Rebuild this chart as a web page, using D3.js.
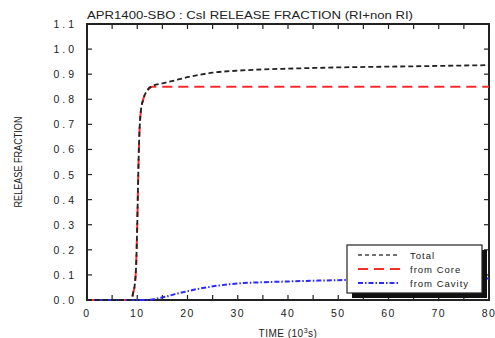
<!DOCTYPE html>
<html>
<head>
<meta charset="utf-8">
<script src="https://cdn.jsdelivr.net/npm/d3@7"></script>
<style>
  body { margin: 0; background: #fff; }
  text { font-family: "Liberation Sans", Arial, sans-serif; fill: #222; }
</style>
</head>
<body>
<div id="chart"></div>
<script>
// time in 10^3 s, release fraction
var totalT = [0, 8.8, 9.2, 9.5, 9.8, 10.0, 10.2, 10.4, 10.7, 11.2, 12, 13, 15, 18, 20, 22.5, 25, 30, 35, 40, 50, 60, 70, 80];
var totalV = [0, 0, 0.03, 0.06, 0.15, 0.3, 0.5, 0.65, 0.75, 0.8, 0.835, 0.853, 0.863, 0.878, 0.888, 0.898, 0.906, 0.914, 0.919, 0.922, 0.927, 0.930, 0.933, 0.936];
var coreT = [0, 8.8, 9.2, 9.5, 9.8, 10.0, 10.2, 10.4, 10.7, 11.2, 12, 13, 80];
var coreV = [0, 0, 0.03, 0.06, 0.15, 0.3, 0.5, 0.65, 0.75, 0.8, 0.835, 0.85, 0.85];
var cavityT = [0, 12, 13, 14, 16, 18, 20, 22, 24, 26, 28, 30, 34, 40, 50, 60, 70, 80];
var cavityV = [0, 0, 0.002, 0.006, 0.015, 0.026, 0.035, 0.044, 0.051, 0.057, 0.062, 0.066, 0.07, 0.074, 0.079, 0.082, 0.084, 0.086];
var seriesNames = ["Total", "from Core", "from Cavity"];
var xTicks = [0, 10, 20, 30, 40, 50, 60, 70, 80];
var yTicks = [0, 0.1, 0.2, 0.3, 0.4, 0.5, 0.6, 0.7, 0.8, 0.9, 1.0, 1.1];

var width = 495, height = 338;
var margin = {top: 24, right: 6, bottom: 38, left: 87};

var svg = d3.select("#chart").append("svg")
    .attr("width", width)
    .attr("height", height);

var x = d3.scaleLinear().domain([0, 80]).range([margin.left, width - margin.right]);
var y = d3.scaleLinear().domain([0, 1.1]).range([height - margin.bottom, margin.top]);

function spaced(s) { return s.split("").join(" "); }

// frame
svg.append("rect")
    .attr("x", x(0)).attr("y", y(1.1))
    .attr("width", x(80) - x(0)).attr("height", y(0) - y(1.1))
    .attr("fill", "none").attr("stroke", "#222").attr("stroke-width", 2);

// minor / major ticks, inward on all four sides
var xt = d3.range(0, 81, 5);
var yt = d3.range(0, 12).map(function (d) { return d / 10; });
var tk = svg.append("g").attr("stroke", "#222").attr("stroke-width", 1.2);
xt.forEach(function (t) {
    tk.append("line").attr("x1", x(t)).attr("x2", x(t)).attr("y1", y(0)).attr("y2", y(0) - 5);
    tk.append("line").attr("x1", x(t)).attr("x2", x(t)).attr("y1", y(1.1)).attr("y2", y(1.1) + 5);
});
yt.forEach(function (t) {
    tk.append("line").attr("x1", x(0)).attr("x2", x(0) + 5).attr("y1", y(t)).attr("y2", y(t));
    tk.append("line").attr("x1", x(80)).attr("x2", x(80) - 5).attr("y1", y(t)).attr("y2", y(t));
});

// tick labels
svg.append("g").selectAll("text").data(xTicks).enter().append("text")
    .attr("x", function (d) { return x(d); })
    .attr("y", y(0) + 17)
    .attr("text-anchor", "middle")
    .style("font-size", "10.5px")
    .style("letter-spacing", "1.5px")
    .text(function (d) { return d; });

svg.append("g").selectAll("text").data(yTicks).enter().append("text")
    .attr("x", x(0) - 13)
    .attr("y", function (d) { return y(d) + 4; })
    .attr("text-anchor", "end")
    .style("font-size", "10.5px")
    .text(function (d) { return spaced(d3.format(".1f")(d)); });

// lines
var line = d3.line()
    .x(function (d) { return x(d[0]); })
    .y(function (d) { return y(d[1]); })
    .curve(d3.curveMonotoneX);

var series = [
    {t: coreT, v: coreV, color: "#ff2a2a", dash: "10,6", w: 2},
    {t: cavityT, v: cavityV, color: "#2a2aff", dash: "5,2,1.5,2", w: 2},
    {t: totalT, v: totalV, color: "#222", dash: "5,3", w: 1.8}
];
series.forEach(function (s) {
    svg.append("path")
        .datum(d3.zip(s.t, s.v))
        .attr("fill", "none")
        .attr("stroke", s.color)
        .attr("stroke-width", s.w)
        .attr("stroke-dasharray", s.dash)
        .attr("d", line);
});

// legend
var lg = {x: 347, y: 245, w: 135, h: 48};
svg.append("rect").attr("x", lg.x + 5).attr("y", lg.y + 5).attr("width", lg.w).attr("height", lg.h).attr("fill", "#111");
svg.append("rect").attr("x", lg.x).attr("y", lg.y).attr("width", lg.w).attr("height", lg.h)
    .attr("fill", "#fff").attr("stroke", "#222").attr("stroke-width", 1.2);
var legStyles = [
    {color: "#444", dash: "4,3", w: 1.5},
    {color: "#ff2a2a", dash: "10,6", w: 2},
    {color: "#2a2aff", dash: "5,2,1.5,2", w: 2}
];
seriesNames.forEach(function (n, i) {
    var yy = lg.y + 10 + i * 14;
    svg.append("line").attr("x1", lg.x + 11).attr("x2", lg.x + 53).attr("y1", yy).attr("y2", yy)
        .attr("stroke", legStyles[i].color).attr("stroke-width", legStyles[i].w)
        .attr("stroke-dasharray", legStyles[i].dash);
    svg.append("text").attr("x", lg.x + 63).attr("y", yy + 4)
        .style("font-size", "9.5px").style("letter-spacing", "1px")
        .text(n.replace(" ", "  "));
});

// titles
svg.append("text")
    .attr("x", 87).attr("y", 19)
    .attr("textLength", 326).attr("lengthAdjust", "spacingAndGlyphs")
    .style("font-size", "11px")
    .text("APR1400-SBO : CsI RELEASE FRACTION (RI+non RI)");

svg.append("text")
    .attr("x", (x(0) + x(80)) / 2).attr("y", 337)
    .attr("text-anchor", "middle")
    .style("font-size", "10px")
    .style("letter-spacing", "0.5px")
    .html("TIME  (10<tspan dy='-4' style='font-size:7px'>3</tspan><tspan dy='4'>s)</tspan>");

svg.append("text")
    .attr("transform", "translate(22,162) rotate(-90)")
    .attr("text-anchor", "middle")
    .attr("textLength", 91).attr("lengthAdjust", "spacingAndGlyphs")
    .style("font-size", "10px")
    .text("RELEASE FRACTION");
</script>
</body>
</html>
